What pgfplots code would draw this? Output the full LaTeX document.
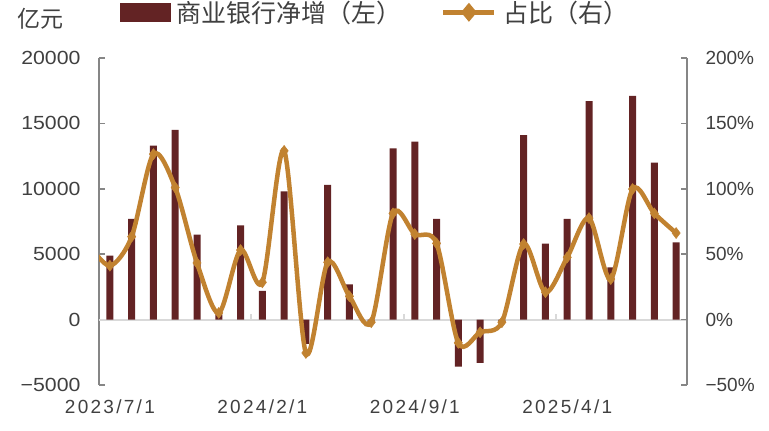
\documentclass[border=0pt]{standalone}
\usepackage{pgfplots}
\pgfplotsset{compat=1.18}
\usepackage{fontspec}
\setmainfont{Liberation Sans}
\newfontfamily\cjk{Noto Sans CJK SC}
\definecolor{barcol}{RGB}{99,35,36}
\definecolor{linecol}{RGB}{193,130,48}
\definecolor{axcol}{RGB}{134,134,134}
\definecolor{txtcol}{RGB}{64,64,64}
\definecolor{zerocol}{RGB}{217,217,217}

\begin{document}
\begin{tikzpicture}
\pgfplotsset{
  base/.style={
    width=588bp, height=327bp, scale only axis,
    at={(0,0)}, anchor=south west,
    xmin=-0.5, xmax=26.5,
    tick label style={font=\fontsize{19bp}{19bp}\selectfont, text=txtcol},
    /pgf/number format/assume math mode=true,
    scaled y ticks=false,
    tick align=inside, major tick length=6bp,
  }
}
\path[use as bounding box] (-99bp,-46bp) rectangle (670bp,385bp);

% left axis: bars
\begin{axis}[base,
  ymin=-5000, ymax=20000,
  axis y line*=left, axis x line*=bottom,
  y axis line style={axcol, line width=2bp},
  x axis line style={draw=none},
  ytick={-5000,0,5000,10000,15000,20000},
  yticklabels={−5000,0,5000,10000,15000,20000},
  ytick style={axcol, line width=1.5bp},
  xtick={0,7,14,21},
  xticklabels={2023/7/1,2024/2/1,2024/9/1,2025/4/1},
  xtick style={draw=none},
  every y tick label/.append style={xshift=-15bp, font=\fontsize{19bp}{19bp}\selectfont\addfontfeature{FakeStretch=1.12}},
  every x tick label/.append style={yshift=-11bp, font=\fontsize{19bp}{19bp}\selectfont\addfontfeature{LetterSpace=12}},
  extra y ticks={0}, extra y tick labels={},
  extra y tick style={grid=major, major grid style={zerocol, line width=2bp}, ytick style={draw=none}},
]
\addplot[ybar, bar width=7bp, fill=barcol, draw=none] coordinates {
 (0,4900) (1,7700) (2,13300) (3,14500) (4,6500) (5,400) (6,7200)
 (7,2200) (8,9800) (9,-1850) (10,10300) (11,2700) (12,-200) (13,13100)
 (14,13600) (15,7700) (16,-3600) (17,-3300) (18,-200) (19,14100) (20,5800)
 (21,7700) (22,16700) (23,4000) (24,17100) (25,12000) (26,5900)
};
\draw[zerocol, line width=2bp] (axis cs:6.5,0) -- (axis cs:6.5,420);
\draw[zerocol, line width=2bp] (axis cs:13.5,0) -- (axis cs:13.5,420);
\draw[zerocol, line width=2bp] (axis cs:20.5,0) -- (axis cs:20.5,420);
\end{axis}

% right axis: share line
\begin{axis}[base,
  ymin=-50, ymax=200,
  axis y line*=right, axis x line=none,
  y axis line style={axcol, line width=2bp},
  ytick={-50,0,50,100,150,200},
  yticklabels={−50\%,0\%,50\%,100\%,150\%,200\%},
  ytick style={axcol, line width=1.5bp},
  every y tick label/.append style={xshift=15bp},
  clip marker paths=true,
  legend columns=-1,
  legend style={at={(0.035,1.18)}, anchor=north west, draw=none, fill=none,
    inner sep=0pt, font=\cjk\fontsize{25bp}{25bp}\selectfont, text=txtcol,
    nodes={inner sep=1.5bp},
    /tikz/every odd column/.append style={column sep=5bp},
    /tikz/every even column/.append style={column sep=38bp}},
]
\addlegendimage{legend image code/.code={\fill[barcol] (0bp,-8.5bp) rectangle (50bp,9bp);}}
\addlegendentry{商业银行净增（左）}
\addplot[linecol, line width=4.5bp, smooth, mark=diamond*, mark size=5.5bp,
  mark options={fill=linecol, draw=linecol, line width=0.5bp},
  legend image code/.code={
    \draw[linecol, line width=4.5bp] (0bp,0bp) -- (51bp,0bp);
    \fill[linecol] (25.5bp,0bp) +(-5bp,0bp) -- +(0bp,6bp) -- +(5bp,0bp) -- +(0bp,-6bp) -- cycle;}
] coordinates {
 (-1,58) (0,41.2) (1,63.4) (2,126.5) (3,101) (4,43.3) (5,5.1) (6,53.2)
 (7,28.5) (8,129) (9,-25.5) (10,43.8) (11,17.8) (12,-2) (13,81.2)
 (14,65.4) (15,58.3) (16,-17.8) (17,-9.7) (18,-2) (19,57.8) (20,20.9)
 (21,47.6) (22,77.6) (23,31) (24,99.8) (25,81.2) (26,66.2)
};
\addlegendentry{占比（右）}
\end{axis}

\node[text=txtcol, font=\cjk\fontsize{23bp}{23bp}\selectfont] at (-58.5bp,366bp) {亿元};
\end{tikzpicture}
\end{document}
